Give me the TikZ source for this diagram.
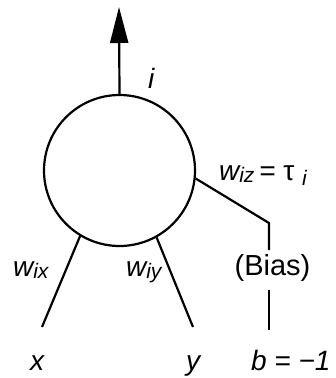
\documentclass[tikz,border=0pt]{standalone}
\usepackage{fontspec}
\setmainfont{Liberation Sans}
\usetikzlibrary{arrows.meta}
\newcommand\mysub[2][-2pt]{\raisebox{#1}{\fontsize{21}{24}\selectfont #2}}
\begin{document}
\begin{tikzpicture}[x=1pt,y=-1pt,line width=2.2pt,
  lab/.style={font=\fontsize{28}{32}\selectfont\itshape,inner sep=0pt,anchor=base west},
  plain/.style={font=\fontsize{29}{32}\selectfont,inner sep=0pt,anchor=base},
  neuron/.style={circle,draw,minimum size=151pt,inner sep=0pt}]
\useasboundingbox (0,0) rectangle (336,378);
\node[neuron] (c) at (119.5,170.5) {};
\coordinate (top) at (119,7);
\draw[-{Triangle[length=36pt,width=18pt]}] (c.north) -- (top);
\node[lab] (ilab) at (147,88) {i};
% bias connection
\coordinate (k) at (269,223);
\coordinate (k2) at (269,250);
\node[plain] (bias) at (272.5,275) {(Bias)};
\coordinate (b1) at (269,290);
\coordinate (b2) at (269,330);
\draw (c.-6) -- (k) -- (k2);
\draw (b1) -- (b2);
% inputs
\coordinate (xe) at (42,327);
\coordinate (ye) at (193,327);
\draw (c.-121) -- (xe);
\draw (c.-61.6) -- (ye);
% labels
\node[lab] (wix) at (12,276) {w\mysub{ix}};
\node[lab] (wiy) at (125,276) {w\mysub{iy}};
\node[lab] (wiz) at (218,180) {w\mysub{iz}\,= {\upshape τ}\;\mysub[-5pt]{i}};
\node[lab] (xl) at (29,370) {x};
\node[lab] (yl) at (185,370) {y};
\node[lab] (bl) at (250,370) {b = −1};
\end{tikzpicture}
\end{document}
